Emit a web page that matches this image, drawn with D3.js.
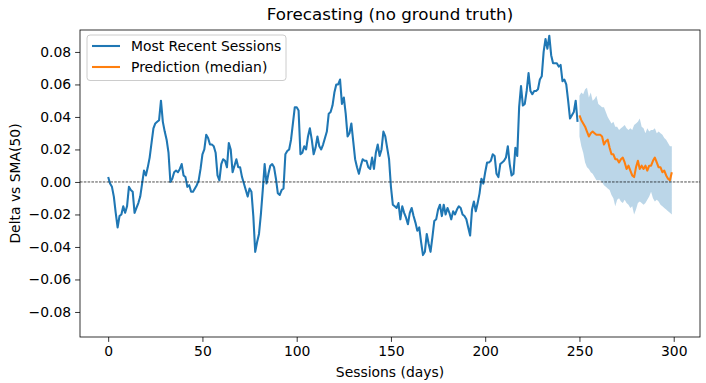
<!DOCTYPE html>
<html>
<head>
<meta charset="utf-8">
<script src="https://cdn.jsdelivr.net/npm/d3@7/dist/d3.min.js"></script>
<style>
  html, body { margin: 0; padding: 0; background: #fff; }
  svg { display: block; font-family: "DejaVu Sans", sans-serif; }
</style>
</head>
<body>
<svg id="chart" width="706" height="383"></svg>
<script>
// ---- data ----
const recentStart = 0;
const recent = [
  0.003,-0.001,-0.003,-0.009,-0.019,-0.028,-0.021,-0.020,-0.015,-0.019,
  -0.015,-0.003,-0.005,-0.006,-0.019,-0.016,-0.013,-0.009,-0.001,0.007,
  0.004,0.009,0.015,0.024,0.033,0.036,0.037,0.038,0.050,0.037,
  0.031,0.026,0.018,0.000,0.002,0.006,0.007,0.006,0.008,0.011,
  0.004,0.003,-0.003,-0.002,-0.006,-0.006,-0.004,-0.002,0.001,0.008,
  0.017,0.020,0.029,0.027,0.023,0.023,0.022,0.018,0.004,0.001,
  0.011,0.014,0.013,0.009,0.024,0.020,0.006,0.010,0.014,0.009,
  0.009,0.003,-0.001,-0.005,-0.009,-0.004,-0.006,-0.021,-0.043,-0.037,
  -0.032,-0.020,-0.005,0.011,-0.001,0.005,0.010,0.011,0.009,0.002,
  -0.007,-0.008,-0.005,-0.004,0.017,0.019,0.020,0.026,0.036,0.046,
  0.046,0.044,0.017,0.018,0.022,0.020,0.028,0.033,0.026,0.017,
  0.021,0.028,0.022,0.020,0.023,0.027,0.031,0.042,0.043,0.047,
  0.055,0.060,0.060,0.063,0.048,0.052,0.042,0.028,0.030,0.036,
  0.025,0.014,0.009,0.005,0.010,0.014,0.013,0.013,0.009,0.008,
  0.015,0.008,0.018,0.023,0.016,0.020,0.031,0.028,0.021,0.014,
  -0.003,-0.014,-0.015,-0.016,-0.013,-0.023,-0.015,-0.019,-0.022,-0.026,
  -0.019,-0.016,-0.021,-0.025,-0.030,-0.028,-0.037,-0.045,-0.043,-0.032,
  -0.038,-0.043,-0.034,-0.024,-0.023,-0.017,-0.014,-0.021,-0.014,-0.020,
  -0.016,-0.019,-0.023,-0.018,-0.020,-0.017,-0.015,-0.016,-0.020,-0.021,
  -0.023,-0.028,-0.033,-0.017,-0.012,-0.018,-0.013,-0.007,0.002,-0.001,
  0.006,0.012,0.012,0.013,0.017,0.016,0.005,0.003,0.011,0.012,
  0.013,0.015,0.022,0.011,0.004,0.005,0.021,0.016,0.046,0.059,
  0.047,0.048,0.056,0.067,0.056,0.054,0.056,0.056,0.057,0.063,
  0.065,0.080,0.088,0.082,0.090,0.078,0.073,0.073,0.073,0.071,
  0.072,0.062,0.063,0.060,0.050,0.039,0.041,0.043,0.050,0.037
];
const predStart = 250;
const median = [
  0.041,0.038,0.036,0.034,0.031,0.028,0.030,0.031,0.030,0.029,
  0.029,0.029,0.028,0.023,0.025,0.026,0.021,0.017,0.017,0.014,
  0.014,0.012,0.014,0.015,0.012,0.008,0.010,0.007,0.004,0.003,
  0.009,0.013,0.008,0.010,0.008,0.010,0.007,0.010,0.010,0.013,
  0.015,0.012,0.009,0.009,0.006,0.007,0.004,0.002,0.001,0.006
];
const upper = [
  0.053,0.055,0.054,0.057,0.058,0.052,0.055,0.050,0.051,0.053,
  0.048,0.047,0.046,0.046,0.043,0.040,0.038,0.036,0.037,0.034,
  0.034,0.032,0.033,0.034,0.035,0.033,0.032,0.033,0.032,0.035,
  0.036,0.037,0.039,0.034,0.033,0.030,0.033,0.031,0.032,0.032,
  0.033,0.030,0.031,0.030,0.029,0.027,0.026,0.024,0.022,0.022
];
const lower = [
  0.028,0.022,0.018,0.012,0.009,0.008,0.006,0.005,0.003,0.001,
  0.001,0.001,0.000,-0.002,-0.003,-0.004,-0.005,-0.008,-0.010,-0.015,
  -0.011,-0.010,-0.012,-0.013,-0.011,-0.013,-0.014,-0.016,-0.015,-0.020,
  -0.017,-0.013,-0.012,-0.013,-0.014,-0.013,-0.011,-0.009,-0.006,-0.010,
  -0.012,-0.011,-0.012,-0.014,-0.015,-0.016,-0.017,-0.018,-0.019,-0.020
];
const xTicks = [0, 50, 100, 150, 200, 250, 300];
const yTicks = [-0.08, -0.06, -0.04, -0.02, 0.00, 0.02, 0.04, 0.06, 0.08];
const titleText = "Forecasting (no ground truth)";
const xLabel = "Sessions (days)";
const yLabel = "Delta vs SMA(50)";
const seriesNames = ["Most Recent Sessions", "Prediction (median)"];
const colors = ["#1f77b4", "#ff7f0e"];

// ---- layout ----
const L = 80, R = 700, T = 30, B = 337;
const svg = d3.select("#chart");
const x = d3.scaleLinear().domain([-14.95, 313.95]).range([L, R]);
const y = d3.scaleLinear().domain([-0.0954, 0.0935]).range([B, T]);

const recentPts = recent.map((v, i) => ({x: recentStart + i, y: v}));
const medPts = median.map((v, i) => ({x: predStart + i, y: v, hi: upper[i], lo: lower[i]}));

const plot = svg.append("g");
plot.append("clipPath").attr("id", "clip").append("rect")
  .attr("x", L).attr("y", T).attr("width", R - L).attr("height", B - T);
const g = plot.append("g").attr("clip-path", "url(#clip)");

g.append("path").datum(medPts)
  .attr("d", d3.area().x(d => x(d.x)).y0(d => y(d.lo)).y1(d => y(d.hi)))
  .attr("fill", colors[0]).attr("fill-opacity", 0.3).attr("stroke", "none");

const line = d3.line().x(d => x(d.x)).y(d => y(d.y));
g.append("path").datum(recentPts).attr("d", line)
  .attr("fill", "none").attr("stroke", colors[0]).attr("stroke-width", 2.08)
  .attr("stroke-linejoin", "round").attr("stroke-linecap", "butt");
g.append("path").datum(medPts).attr("d", line)
  .attr("fill", "none").attr("stroke", colors[1]).attr("stroke-width", 2.08)
  .attr("stroke-linejoin", "round").attr("stroke-linecap", "butt");

g.append("line").attr("x1", L).attr("x2", R).attr("y1", y(0)).attr("y2", y(0))
  .attr("stroke", "#000").attr("stroke-width", 0.7).attr("stroke-dasharray", "2.6,1.2");

// axes
const xAxis = d3.axisBottom(x).tickValues(xTicks).tickSize(4.9).tickPadding(4).tickFormat(d3.format("d"));
const yAxis = d3.axisLeft(y).tickValues(yTicks).tickSize(4.9).tickPadding(4)
  .tickFormat(d => d3.format(".2f")(d).replace("-", "\u2212"));
const gx = svg.append("g").attr("transform", `translate(0,${B})`).call(xAxis);
const gy = svg.append("g").attr("transform", `translate(${L},0)`).call(yAxis);
[gx, gy].forEach(a => {
  a.select(".domain").remove();
  a.selectAll("line").attr("stroke", "#000").attr("stroke-width", 0.8);
  a.selectAll("text").attr("font-size", "13.9px").attr("fill", "#000")
    .attr("font-family", "DejaVu Sans, sans-serif");
});
gx.selectAll("text").attr("dy", "0.71em");

svg.append("rect").attr("x", L).attr("y", T).attr("width", R - L).attr("height", B - T)
  .attr("fill", "none").attr("stroke", "#000").attr("stroke-width", 0.8);

// labels
svg.append("text").attr("x", (L + R) / 2).attr("y", 20).attr("text-anchor", "middle")
  .attr("font-size", "16.7px").text(titleText);
svg.append("text").attr("x", (L + R) / 2).attr("y", 377).attr("text-anchor", "middle")
  .attr("font-size", "13.9px").text(xLabel);
svg.append("text").attr("transform", `translate(20,${(T + B) / 2}) rotate(-90)`)
  .attr("text-anchor", "middle").attr("font-size", "13.9px").text(yLabel);

// legend
const lg = svg.append("g");
lg.append("rect").attr("x", 87).attr("y", 35).attr("width", 199).attr("height", 45.5)
  .attr("rx", 3).attr("fill", "#fff").attr("fill-opacity", 0.8)
  .attr("stroke", "#cccccc").attr("stroke-width", 1);
seriesNames.forEach((name, k) => {
  const yy = 46 + k * 21;
  lg.append("line").attr("x1", 92).attr("x2", 120).attr("y1", yy).attr("y2", yy)
    .attr("stroke", colors[k]).attr("stroke-width", 2.08);
  lg.append("text").attr("x", 131).attr("y", yy + 5).attr("font-size", "13.9px").text(name);
});
</script>
</body>
</html>
